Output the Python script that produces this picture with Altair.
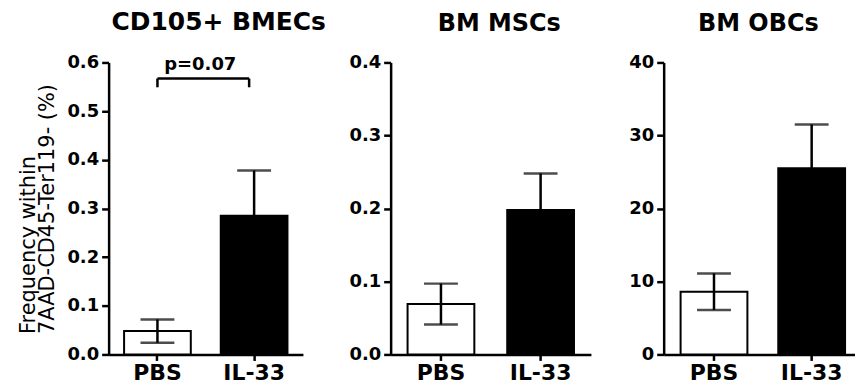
import altair as alt
import pandas as pd

# Groups and summary values (mean and SEM) per cell population
groups = ["PBS", "IL-33"]
bar_fill = ["white", "black"]

bmec_mean = [0.048, 0.285]
bmec_sem = [0.024, 0.093]
msc_mean = [0.069, 0.198]
msc_sem = [0.028, 0.050]
obc_mean = [8.6, 25.5]
obc_sem = [2.5, 6.0]

panel_titles = ["CD105+ BMECs", "BM MSCs", "BM OBCs"]
y_ticks_bmec = [0.0, 0.1, 0.2, 0.3, 0.4, 0.5, 0.6]
y_ticks_msc = [0.0, 0.1, 0.2, 0.3, 0.4]
y_ticks_obc = [0, 10, 20, 30, 40]
y_title = ["Frequency within", "7AAD-CD45-Ter119- (%)"]

# significance bracket between PBS and IL-33 in the BMEC panel
p_label = "p=0.07"
bracket_level = 0.567
bracket_drop = 0.549

FONT = "DejaVu Sans"
PLOT_H = 293
LINE_W = 2.5


def panel(title, title_size, means, sems, ticks, fmt, width, inner, outer, align, dx,
          axis_title=None, bracket=False):
    df = pd.DataFrame({"group": groups, "mean": means, "sem": sems, "fill": bar_fill})
    df["lo"] = df["mean"] - df["sem"]
    df["hi"] = df["mean"] + df["sem"]

    x = alt.X(
        "group:N",
        scale=alt.Scale(domain=groups, paddingInner=inner, paddingOuter=outer, align=align),
        axis=alt.Axis(title=None, labelAngle=0, labelFontSize=22, labelPadding=2,
                      tickSize=6),
    )
    y_axis_kwargs = dict(values=ticks, format=fmt, labelFontSize=18, tickSize=7,
                         labelPadding=3)
    if axis_title is not None:
        y_axis_kwargs.update(
            title=axis_title, titleAngle=270, titleAlign="left",
            titleBaseline="alphabetic", titleX=-74, titleY=272,
            titleFontSize=21, titleFontWeight="normal", titleLineHeight=19,
            titleFont=FONT, titleColor="black",
        )
    else:
        y_axis_kwargs.update(title=None)
    y = alt.Y("mean:Q", scale=alt.Scale(domain=[ticks[0], ticks[-1]], nice=False),
              axis=alt.Axis(**y_axis_kwargs))

    base = alt.Chart(df)
    bars = base.mark_bar(stroke="black", strokeWidth=2).encode(
        x=x, y=y, fill=alt.Fill("fill:N", scale=None)
    )
    whisker = base.mark_rule(color="black", strokeWidth=LINE_W).encode(
        x=alt.X("group:N"), y=alt.Y("lo:Q"), y2="hi:Q"
    )
    cap_hi = base.mark_tick(color="black", thickness=LINE_W, size=34).encode(
        x=alt.X("group:N"), y=alt.Y("hi:Q")
    )
    cap_lo = base.mark_tick(color="black", thickness=LINE_W, size=34).encode(
        x=alt.X("group:N"), y=alt.Y("lo:Q")
    )
    layers = [bars, whisker, cap_hi, cap_lo]

    if bracket:
        bdf = pd.DataFrame({"a": [groups[0]], "b": [groups[1]],
                            "y": [bracket_level], "yd": [bracket_drop],
                            "label": [p_label]})
        bbase = alt.Chart(bdf)
        layers += [
            bbase.mark_rule(color="black", strokeWidth=LINE_W, x2Offset=-5).encode(
                x=alt.X("a:N"), x2="b:N", y=alt.Y("y:Q")),
            bbase.mark_rule(color="black", strokeWidth=LINE_W).encode(
                x=alt.X("a:N"), y=alt.Y("y:Q"), y2="yd:Q"),
            bbase.mark_rule(color="black", strokeWidth=LINE_W, xOffset=-5).encode(
                x=alt.X("b:N"), y=alt.Y("y:Q"), y2="yd:Q"),
            bbase.mark_text(font=FONT, fontWeight="bold", fontSize=18, dy=-9,
                            xOffset=43, baseline="alphabetic", align="center",
                            color="black").encode(
                x=alt.X("a:N"), y=alt.Y("y:Q"), text="label:N"),
        ]

    return alt.layer(*layers).properties(
        width=width,
        height=PLOT_H,
        title=alt.TitleParams(title, font=FONT, fontSize=title_size, fontWeight="bold",
                              color="black", anchor="middle", frame="group",
                              baseline="alphabetic", offset=-1, dx=dx),
    )


p1 = panel(panel_titles[0], 25, bmec_mean, bmec_sem, y_ticks_bmec, ".1f", 195,
           0.31, 0.16, 0.5, 13, axis_title=y_title, bracket=True)
p2 = panel(panel_titles[1], 24, msc_mean, msc_sem, y_ticks_msc, ".1f", 201,
           0.33, 0.17, 0.5, 8.5)
p3 = panel(panel_titles[2], 24, obc_mean, obc_sem, y_ticks_obc, "d", 192,
           0.316, 0.1375, 0.63, -1)

chart = alt.hconcat(alt.hconcat(p1, p2, spacing=22), p3, spacing=37).properties(
    padding={"left": 17, "top": 9, "right": 0, "bottom": 0},
    background="white",
).configure_view(stroke=None).configure_axis(
    domainColor="black", domainWidth=LINE_W, tickColor="black", tickWidth=LINE_W,
    labelColor="black", labelFont=FONT, labelFontWeight="bold", grid=False,
)

chart.save("out.html", embed_options={"renderer": "svg", "actions": False})
